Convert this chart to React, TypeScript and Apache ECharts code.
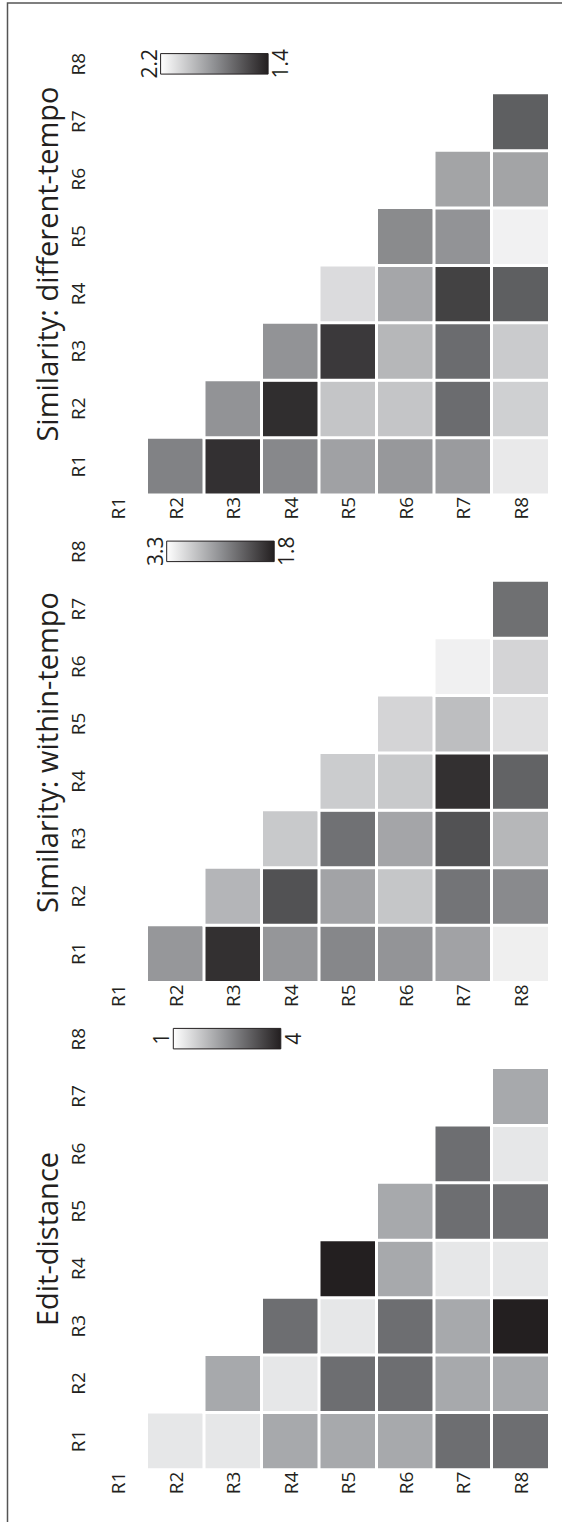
import React, { useEffect, useRef } from "react";
import * as echarts from "echarts";

const labels = ["R1", "R2", "R3", "R4", "R5", "R6", "R7", "R8"];

// Each inner list: column R(k+2) compared with R1..R(k+1)
const differentTempo = [
  [1.75],
  [1.46, 1.81],
  [1.77, 1.45, 1.81],
  [1.86, 1.99, 1.49, 2.07],
  [1.83, 1.99, 1.94, 1.88, 1.78],
  [1.84, 1.67, 1.67, 1.52, 1.81, 1.87],
  [2.12, 2.03, 2.01, 1.62, 2.15, 1.87, 1.62],
];

const withinTempo = [
  [2.6],
  [1.91, 2.8],
  [2.59, 2.13, 2.93],
  [2.49, 2.68, 2.34, 2.95],
  [2.58, 2.91, 2.69, 2.93, 3.01],
  [2.67, 2.36, 2.13, 1.91, 2.86, 3.2],
  [3.19, 2.51, 2.81, 2.24, 3.09, 3.01, 2.33],
];

const editDistance = [
  [1],
  [1, 2],
  [2, 1, 3],
  [2, 3, 1, 4],
  [2, 3, 3, 2, 2],
  [3, 2, 2, 1, 3, 3],
  [3, 2, 4, 1, 3, 1, 2],
];

const titles = ["Similarity: different-tempo", "Similarity: within-tempo", "Edit-distance"];
const scaleMin = [1.4, 1.8, 1];
const scaleMax = [2.2, 3.3, 4];
const scaleLeftLabel = ["2.2", "3.3", "1"];
const scaleRightLabel = ["1.4", "1.8", "4"];

const toCells = (cols: number[][]) => {
  const out: [number, number, number][] = [];
  cols.forEach((vals, k) => {
    vals.forEach((v, b) => out.push([k + 1, b, v]));
  });
  return out;
};

const INK = "#231f20";
const NARROW = "'Liberation Sans Narrow', 'Open Sans', sans-serif";
const TITLE_FONT = "'Open Sans', sans-serif";

export default function App() {
  const ref = useRef<HTMLDivElement>(null);
  useEffect(() => {
    if (!ref.current) return;
    const chart = echarts.init(ref.current, null, { renderer: "svg" });
    const tops = [35.6, 523.1, 1010.4];
    const titleY = [264, 752.5, 1239];
    const barX = [160.6, 166.7, 173.3];
    const barW = 107.5;
    const barTopOff = 18;
    const barH = 20.5;
    const datasets = [differentTempo, withinTempo, editDistance];

    const simColors = [INK, "#58595b", "#8f9093", "#c7c8ca", "#ffffff"];
    const editColors = ["#e6e7e8", "#a7a9ac", "#6d6e71", INK];

    const graphic: any[] = [
      {
        type: "rect",
        shape: { x: 7.5, y: 3, width: 700, height: 1700 },
        style: { fill: "none", stroke: "#555555", lineWidth: 1.5 },
        silent: true,
      },
    ];
    tops.forEach((top, i) => {
      graphic.push({
        type: "text",
        x: 46,
        y: titleY[i],
        rotation: Math.PI / 2,
        style: {
          text: titles[i],
          fontSize: 29,
          fontFamily: TITLE_FONT,
          fill: INK,
          align: "center",
          verticalAlign: "middle",
        },
      });
      const by = top + barTopOff;
      graphic.push({
        type: "rect",
        shape: { x: barX[i], y: by, width: barW, height: barH },
        style: {
          fill: new echarts.graphic.LinearGradient(0, 0, 1, 0, [
            { offset: 0, color: "#ffffff" },
            { offset: 0.5, color: "#8f9093" },
            { offset: 1, color: INK },
          ]),
          stroke: INK,
          lineWidth: 1,
        },
      });
      graphic.push({
        type: "text",
        x: barX[i] - 12,
        y: by + barH / 2,
        rotation: Math.PI / 2,
        style: {
          text: scaleLeftLabel[i],
          fontSize: 21,
          fontFamily: NARROW,
          fill: INK,
          align: "center",
          verticalAlign: "middle",
        },
      });
      graphic.push({
        type: "text",
        x: barX[i] + barW + 12,
        y: by + barH / 2,
        rotation: Math.PI / 2,
        style: {
          text: scaleRightLabel[i],
          fontSize: 21,
          fontFamily: NARROW,
          fill: INK,
          align: "center",
          verticalAlign: "middle",
        },
      });
    });

    const axisLabel = {
      rotate: 90,
      margin: 2,
      fontSize: 19,
      fontFamily: NARROW,
      color: INK,
    };

    chart.setOption({
      animation: false,
      grid: tops.map((top) => ({
        left: 89.25,
        top,
        width: 460,
        height: 459.2,
        outerBoundsMode: "none",
      })),
      xAxis: tops.map((_, i) => ({
        type: "category",
        gridIndex: i,
        data: labels,
        axisLine: { show: false },
        axisTick: { show: false },
        splitLine: { show: false },
        splitArea: { show: false },
        axisLabel,
      })),
      yAxis: tops.map((_, i) => ({
        type: "category",
        gridIndex: i,
        data: labels,
        axisLine: { show: false },
        axisTick: { show: false },
        splitLine: { show: false },
        splitArea: { show: false },
        axisLabel: { ...axisLabel, margin: 2 },
      })),
      visualMap: tops.map((_, i) => ({
        type: "continuous",
        show: false,
        seriesIndex: i,
        min: scaleMin[i],
        max: scaleMax[i],
        inRange: { color: i === 2 ? editColors : simColors },
      })),
      series: datasets.map((d, i) => ({
        type: "heatmap",
        xAxisIndex: i,
        yAxisIndex: i,
        data: toCells(d),
        itemStyle: { borderColor: "#ffffff", borderWidth: 3 },
        emphasis: { disabled: true },
        label: { show: false },
      })),
      graphic,
    });
    return () => chart.dispose();
  }, []);
  return (
    <div
      ref={ref}
      style={{ position: "absolute", left: 0, top: 0, width: 562, height: 1522, background: "#ffffff" }}
    />
  );
}
